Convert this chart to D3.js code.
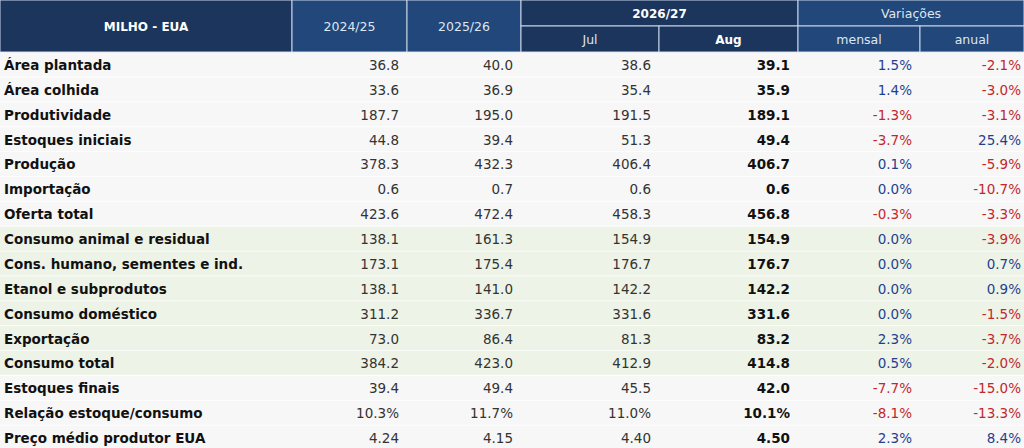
<!DOCTYPE html>
<html lang="pt">
<head>
<meta charset="UTF-8">
<title>milho</title>
<script src="https://cdn.jsdelivr.net/npm/d3@7"></script>
<style>
	body { margin: 0; background: #fff; }
	text { font-family: "DejaVu Sans", Verdana, sans-serif; }
</style>
</head>
<body>
<svg id="t" width="1024" height="448"></svg>
<script>
var rows = ['Área plantada', 'Área colhida', 'Produtividade', 'Estoques iniciais', 'Produção', 'Importação', 'Oferta total',
	'Consumo animal e residual', 'Cons. humano, sementes e ind.', 'Etanol e subprodutos', 'Consumo doméstico', 'Exportação',
	'Consumo total', 'Estoques finais', 'Relação estoque/consumo', 'Preço médio produtor EUA']
var y2425 = ['36.8','33.6','187.7','44.8','378.3','0.6','423.6','138.1','173.1','138.1','311.2','73.0','384.2','39.4','10.3%','4.24']
var y2526 = ['40.0','36.9','195.0','39.4','432.3','0.7','472.4','161.3','175.4','141.0','336.7','86.4','423.0','49.4','11.7%','4.15']
var jul = ['38.6','35.4','191.5','51.3','406.4','0.6','458.3','154.9','176.7','142.2','331.6','81.3','412.9','45.5','11.0%','4.40']
var aug = ['39.1','35.9','189.1','49.4','406.7','0.6','456.8','154.9','176.7','142.2','331.6','83.2','414.8','42.0','10.1%','4.50']
var mensal = ['1.5%','1.4%','-1.3%','-3.7%','0.1%','0.0%','-0.3%','0.0%','0.0%','0.0%','0.0%','2.3%','0.5%','-7.7%','-8.1%','2.3%']
var anual = ['-2.1%','-3.0%','-3.1%','25.4%','-5.9%','-10.7%','-3.3%','-3.9%','0.7%','0.9%','-1.5%','-3.7%','-2.0%','-15.0%','-13.3%','8.4%']
var greenRows = ['Consumo animal e residual', 'Cons. humano, sementes e ind.', 'Etanol e subprodutos', 'Consumo doméstico', 'Exportação', 'Consumo total']

var cols = [0, 292, 407, 521, 659, 798, 920, 1024]
var svg = d3.select('#t')
var y = d3.scaleBand().domain(rows).range([52.5, 52.5 + 24.87 * rows.length])

// header
var hdr = [
	{x0: 0, x1: 292, y0: 0, y1: 52, t: 'MILHO - EUA', c: '#1b355c', b: true},
	{x0: 292, x1: 407, y0: 0, y1: 52, t: '2024/25', c: '#22477a'},
	{x0: 407, x1: 521, y0: 0, y1: 52, t: '2025/26', c: '#22477a'},
	{x0: 521, x1: 798, y0: 0, y1: 26, t: '2026/27', c: '#1b355c', b: true},
	{x0: 798, x1: 1024, y0: 0, y1: 26, t: 'Variações', c: '#22477a'},
	{x0: 521, x1: 659, y0: 26, y1: 52, t: 'Jul', c: '#1b355c'},
	{x0: 659, x1: 798, y0: 26, y1: 52, t: 'Aug', c: '#1b355c', b: true},
	{x0: 798, x1: 920, y0: 26, y1: 52, t: 'mensal', c: '#22477a'},
	{x0: 920, x1: 1024, y0: 26, y1: 52, t: 'anual', c: '#22477a'}
]
var hg = svg.selectAll('g.h').data(hdr).enter().append('g')
hg.append('rect').attr('x', d => d.x0).attr('y', d => d.y0).attr('width', d => d.x1 - d.x0).attr('height', d => d.y1 - d.y0)
	.attr('fill', d => d.c).attr('stroke', '#c9d6e8').attr('stroke-width', 1)
hg.append('text').attr('x', d => (d.x0 + d.x1) / 2).attr('y', d => (d.y0 + d.y1) / 2 + 4.5)
	.attr('text-anchor', 'middle').attr('font-size', d => d.b ? 12 : 12.5).attr('font-weight', d => d.b ? 'bold' : 'normal')
	.attr('fill', d => d.b ? '#fff' : '#dde6f2').text(d => d.t)

// body
var rg = svg.selectAll('g.r').data(rows).enter().append('g')
rg.append('rect').attr('x', 0).attr('y', d => y(d)).attr('width', 1024).attr('height', y.bandwidth())
	.attr('fill', d => greenRows.indexOf(d) >= 0 ? '#eef3e7' : '#f7f7f7')
rg.append('line').attr('x1', 0).attr('x2', 1024).attr('y1', d => y(d) + y.bandwidth()).attr('y2', d => y(d) + y.bandwidth())
	.attr('stroke', '#fff').attr('stroke-width', 1.5)
rg.append('text').attr('x', 4).attr('y', d => y(d) + y.bandwidth() / 2 + 5)
	.attr('font-size', 13.5).attr('font-weight', 'bold').attr('fill', '#111').text(d => d)

var series = [
	{v: y2425, x: cols[2] - 8},
	{v: y2526, x: cols[3] - 8},
	{v: jul, x: cols[4] - 8},
	{v: aug, x: cols[5] - 8, b: true},
	{v: mensal, x: cols[6] - 8, sign: true},
	{v: anual, x: cols[7] - 3, sign: true}
]
series.forEach(function(s) {
	svg.append('g').selectAll('text').data(s.v).enter().append('text')
		.attr('x', s.x).attr('y', (d, i) => y(rows[i]) + y.bandwidth() / 2 + 5)
		.attr('text-anchor', 'end').attr('font-size', 13.5).attr('font-weight', s.b ? 'bold' : 'normal')
		.attr('fill', d => s.sign ? (d[0] === '-' ? '#c0282d' : '#1f3f8f') : (s.b ? '#111' : '#333'))
		.text(d => d)
})
</script>
</body>
</html>
